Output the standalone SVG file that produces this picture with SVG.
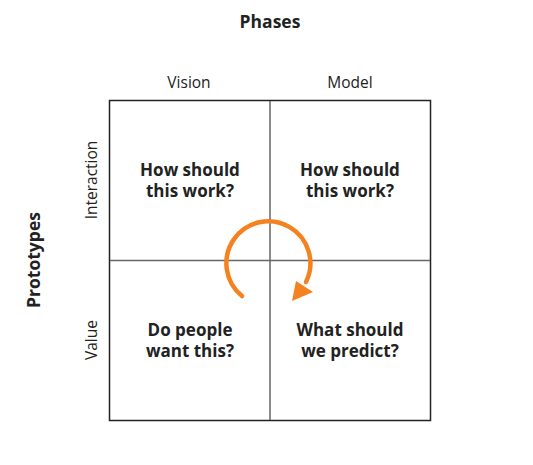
<svg xmlns="http://www.w3.org/2000/svg" width="533" height="465" viewBox="0 0 533 465">
<style>
.t{font-family:"Open Sans","Noto Sans",sans-serif;fill:#222;text-anchor:middle}
.h{font-size:17.5px;font-weight:bold}
.l{font-size:15.5px}
.c{font-size:17px;font-weight:bold}
</style>
<rect width="533" height="465" fill="#fff"/>
<g id="labels">
<text class="t h" x="270" y="28">Phases</text>
<text class="t l" x="189" y="88">Vision</text>
<text class="t l" x="350" y="88">Model</text>
<text class="t h" transform="translate(40,260) rotate(-90)">Prototypes</text>
<text class="t l" transform="translate(97,180) rotate(-90)">Interaction</text>
<text class="t l" transform="translate(97,340) rotate(-90)">Value</text>
</g>
<g id="grid">
<rect x="109.5" y="100.5" width="321" height="320" fill="none" stroke="#222" stroke-width="1.5"/>
<line x1="270" y1="101" x2="270" y2="420" stroke="#666" stroke-width="1.5"/>
<line x1="110" y1="260.5" x2="430" y2="260.5" stroke="#666" stroke-width="1.5"/>
</g>
<g id="cell-tl"><text class="t c" x="190" y="176">How should</text><text class="t c" x="190" y="197">this work?</text></g>
<g id="cell-tr"><text class="t c" x="350" y="176">How should</text><text class="t c" x="350" y="197">this work?</text></g>
<g id="cell-bl"><text class="t c" x="190" y="336">Do people</text><text class="t c" x="190" y="357">want this?</text></g>
<g id="cell-br"><text class="t c" x="350" y="336">What should</text><text class="t c" x="350" y="357">we predict?</text></g>
<g id="connectors">
<path d="M242,296 A42,42 0 1 1 306,282" fill="none" stroke="#F58220" stroke-width="4.5" stroke-linecap="round"/>
<polygon points="296,281 313,292 292,301" fill="#F58220"/>
</g>
</svg>
